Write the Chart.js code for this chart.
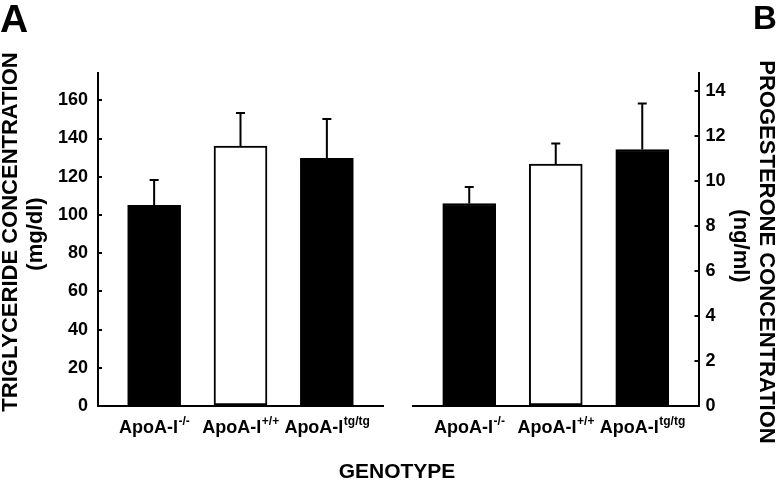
<!DOCTYPE html>
<html lang="en">
<head>
<meta charset="UTF-8">
<title>Triglyceride and progesterone by genotype</title>
<script src="https://cdn.jsdelivr.net/npm/chart.js@4.4.1/dist/chart.umd.min.js"></script>
<style>
  body { margin: 0; background: #fff; }
  #wrap { position: relative; width: 780px; height: 481px; }
  #wrap canvas { position: absolute; left: 0; top: 0; }
</style>
</head>
<body>
<div id="wrap">
  <canvas id="chartA" width="780" height="481"></canvas>
  <canvas id="chartB" width="780" height="481"></canvas>
</div>
<script>
const genotypeBase = 'ApoA-I';
const genotypeSup = ['-/-', '+/+', 'tg/tg'];
const triglycerideMean = [105, 136, 129.7];
const triglycerideSE = [13.3, 17.4, 20.5];
const triglycerideTicks = [0, 20, 40, 60, 80, 100, 120, 140, 160];
const progesteroneMean = [9.0, 10.75, 11.4];
const progesteroneSE = [0.73, 0.92, 2.05];
const progesteroneTicks = [0, 2, 4, 6, 8, 10, 12, 14];

const FAMILY = '"Liberation Sans", Arial, sans-serif';
const font = size => 'bold ' + size + 'px ' + FAMILY;

// upper error bars, genotype labels with superscript, free titles
const extras = {
  id: 'extras',
  afterDatasetsDraw(chart, args, opts) {
    const ctx = chart.ctx;
    const xs = chart.scales.x, ys = chart.scales.y;
    const bars = chart.getDatasetMeta(0).data;
    ctx.save();
    ctx.strokeStyle = '#000';
    ctx.fillStyle = '#000';
    ctx.lineWidth = 2;
    bars.forEach((bar, i) => {
      const top = ys.getPixelForValue(opts.mean[i] + opts.se[i]);
      ctx.beginPath();
      ctx.moveTo(bar.x, bar.y);
      ctx.lineTo(bar.x, top);
      ctx.moveTo(bar.x - 4.5, top);
      ctx.lineTo(bar.x + 4.5, top);
      ctx.stroke();
    });

    ctx.textBaseline = 'alphabetic';
    ctx.textAlign = 'left';
    genotypeSup.forEach((sup, i) => {
      ctx.font = font(18);
      const w1 = ctx.measureText(genotypeBase).width;
      ctx.font = font(12);
      const w2 = ctx.measureText(sup).width;
      const left = xs.getPixelForValue(i) - (w1 + w2) / 2;
      ctx.font = font(18);
      ctx.fillText(genotypeBase, left, 433);
      ctx.font = font(12);
      ctx.fillText(sup, left + w1 + 0.5, 424.5);
    });

    opts.texts.forEach(t => {
      ctx.save();
      ctx.font = font(t.size);
      ctx.textAlign = t.align || 'center';
      ctx.translate(t.x, t.y);
      ctx.rotate((t.rot || 0) * Math.PI / 180);
      ctx.fillText(t.text, 0, 0);
      ctx.restore();
    });
    ctx.restore();
  }
};

function panel(id, mean, se, ticks, yMax, side, pad, yWidth, tickPad, texts) {
  return new Chart(document.getElementById(id), {
    type: 'bar',
    data: {
      datasets: [{
        data: mean.map((v, i) => ({ x: i, y: v })),
        backgroundColor: ['#000', '#fff', '#000'],
        borderColor: '#000',
        borderWidth: 2,
        borderSkipped: false,
        barThickness: 53
      }]
    },
    options: {
      responsive: false,
      animation: false,
      devicePixelRatio: 1,
      layout: { padding: pad },
      plugins: {
        legend: { display: false },
        tooltip: { enabled: false },
        extras: { mean: mean, se: se, texts: texts }
      },
      scales: {
        x: {
          type: 'linear',
          offset: false,
          min: -0.65,
          max: 2.65,
          grid: { display: false },
          ticks: { display: false },
          border: { color: '#000', width: 2 },
          afterBuildTicks: s => { s.ticks = [0, 1, 2].map(v => ({ value: v })); },
          afterFit: s => { s.height = 75; }
        },
        y: {
          position: side,
          min: 0,
          max: yMax,
          afterBuildTicks: s => { s.ticks = ticks.map(v => ({ value: v })); },
          afterFit: s => { s.width = yWidth; },
          grid: { drawOnChartArea: false, color: '#000', lineWidth: 2, tickLength: -4 },
          border: { color: '#000', width: 2 },
          ticks: { color: '#000', padding: tickPad, font: { family: FAMILY, size: 18, weight: 'bold' } }
        }
      }
    },
    plugins: [extras]
  });
}

panel('chartA', triglycerideMean, triglycerideSE, triglycerideTicks, 174.3, 'left',
  { left: 0, right: 397, top: 73, bottom: 0 }, 98, 14, [
    { text: 'A', x: 0, y: 32, size: 39, align: 'left' },
    { text: 'TRIGLYCERIDE CONCENTRATION', x: 16.7, y: 232, size: 22, rot: -90 },
    { text: '(mg/dl)', x: 42, y: 234, size: 22, rot: -90 },
    { text: 'GENOTYPE', x: 397, y: 478, size: 21 }
  ]);

panel('chartB', progesteroneMean, progesteroneSE, progesteroneTicks, 14.8, 'right',
  { left: 413, right: 0, top: 73, bottom: 0 }, 81.5, 11, [
    { text: 'B', x: 753, y: 28.5, size: 33, align: 'left' },
    { text: 'PROGESTERONE CONCENTRATION', x: 760, y: 252, size: 22, rot: 90 },
    { text: '(ng/ml)', x: 734, y: 246, size: 22, rot: 90 }
  ]);
</script>
</body>
</html>
